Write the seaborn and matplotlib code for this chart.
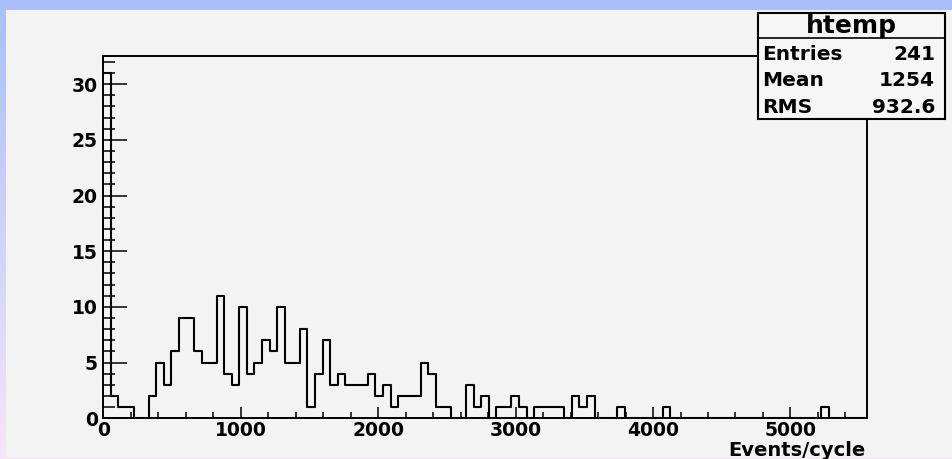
import numpy as np
import pandas as pd
import matplotlib
matplotlib.use("Agg")
import matplotlib.pyplot as plt
from matplotlib.patches import Rectangle
from matplotlib.ticker import MultipleLocator
import seaborn as sns

# ---- data ----
bin_width = 55
counts = [31, 2, 1, 1, 0, 0, 2, 5, 3, 6,
          9, 9, 6, 5, 5, 11, 4, 3, 10, 4,
          5, 7, 6, 10, 5, 5, 8, 1, 4, 7,
          3, 4, 3, 3, 3, 4, 2, 3, 1, 2,
          2, 2, 5, 4, 1, 1, 0, 0, 3, 1,
          2, 0, 1, 1, 2, 1, 0, 1, 1, 1,
          1, 0, 2, 1, 2, 0, 0, 0, 1, 0,
          0, 0, 0, 0, 1, 0, 0, 0, 0, 0,
          0, 0, 0, 0, 0, 0, 0, 0, 0, 0,
          0, 0, 0, 0, 0, 1, 0, 0, 0, 0, 0]
x_ticks = [0, 1000, 2000, 3000, 4000, 5000]
y_ticks = [0, 5, 10, 15, 20, 25, 30]
x_label = "Events/cycle"
stats_title = "htemp"
stats_names = ["Entries", "Mean", "RMS"]
stats_values = ["241", "1254", "932.6"]

edges = [i * bin_width for i in range(len(counts) + 1)]
centers = [e + bin_width / 2 for e in edges[:-1]]
df = pd.DataFrame({"center": centers, "count": counts})
x_max = 5557
y_max = 32.55

W, H = 952, 459
FONT = "DejaVu Sans"

plt.rcParams["font.family"] = [FONT]
plt.rcParams["font.weight"] = "bold"

fig = plt.figure(figsize=(W / 100, H / 100), dpi=100)

def fx(px):
    return px / W

def fy(py):
    return 1 - py / H

# background gradient (blue at top -> lavender/pink at bottom)
bg = fig.add_axes([0, 0, 1, 1], zorder=-10)
top = np.array([0.66, 0.75, 0.98])
bot = np.array([0.96, 0.90, 0.98])
t = np.linspace(0, 1, 256)[:, None]
grad = top[None, :] * (1 - t) + bot[None, :] * t
bg.imshow(grad[:, None, :].repeat(2, axis=1), aspect="auto", extent=[0, 1, 0, 1])
bg.set_axis_off()

# canvas
canvas = Rectangle((fx(6), fy(457)), fx(W - 6), (457 - 10) / H, transform=fig.transFigure,
                   facecolor="#f3f3f3", edgecolor="none", zorder=-5)
fig.patches.append(canvas)

# main axes (frame)
left, right, topp, bottom = 103.3, 867.0, 55.7, 418.3
ax = fig.add_axes([fx(left), fy(bottom), fx(right - left), (bottom - topp) / H])
ax.set_facecolor("none")

sns.histplot(data=df, x="center", weights="count", bins=edges, element="step", fill=False,
             color="black", linewidth=1.5, ax=ax)

ax.set_xlim(0, x_max)
ax.set_ylim(0, y_max)
ax.set_xlabel("")
ax.set_ylabel("")
for s in ax.spines.values():
    s.set_color("black")
    s.set_linewidth(1.4)

ax.set_xticks(x_ticks)
ax.set_yticks(y_ticks)
ax.xaxis.set_minor_locator(MultipleLocator(200))
ax.yaxis.set_minor_locator(MultipleLocator(1))
ax.tick_params(axis="both", which="both", direction="in", colors="black", width=1.1,
               top=False, right=False)
ax.tick_params(axis="y", which="major", length=17.5, pad=4, labelsize=13.5)
ax.tick_params(axis="y", which="minor", length=8.5)
ax.tick_params(axis="x", which="major", length=8, pad=2, labelsize=13.5)
ax.tick_params(axis="x", which="minor", length=4.3)
for lab in ax.get_xticklabels() + ax.get_yticklabels():
    lab.set_fontweight("bold")
    lab.set_family(FONT)

fig.text(fx(866), fy(450), x_label, ha="right", va="center", fontsize=14,
         fontweight="bold", family=FONT)

# stats box
bx0, bx1, by0, by1 = 758.3, 944.5, 12.7, 119.0
box = Rectangle((fx(bx0), fy(by1)), fx(bx1 - bx0), (by1 - by0) / H,
                transform=fig.transFigure, facecolor="#f6f6f6", edgecolor="black",
                linewidth=1.5, zorder=6)
fig.patches.append(box)
fig.add_artist(plt.Line2D([fx(bx0), fx(bx1)], [fy(38.3), fy(38.3)],
                          transform=fig.transFigure, color="black", linewidth=1.2, zorder=7))
fig.text(fx((bx0 + bx1) / 2), fy(26), stats_title, ha="center", va="center",
         fontsize=18, fontweight="bold", family=FONT, zorder=8)
row_y = [54.0, 80.5, 107.5]
for name, val, yy in zip(stats_names, stats_values, row_y):
    fig.text(fx(761.7), fy(yy), name, ha="left", va="center", fontsize=14.5,
             fontweight="bold", family=FONT, zorder=8)
    fig.text(fx(935), fy(yy), val, ha="right", va="center", fontsize=14.5,
             fontweight="bold", family=FONT, zorder=8)

fig.savefig("out.png", dpi=100)
